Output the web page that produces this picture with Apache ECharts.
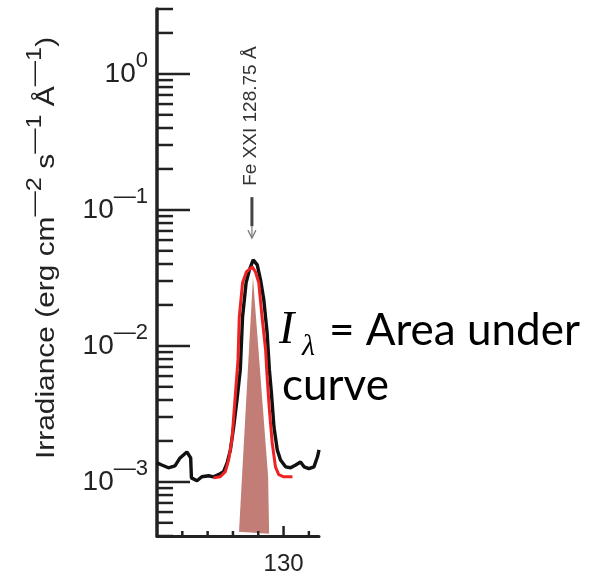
<!DOCTYPE html>
<html><head><meta charset="utf-8">
<script src="https://cdn.jsdelivr.net/npm/echarts@6/dist/echarts.min.js"></script>
<style>html,body{margin:0;padding:0;background:#fff}#c{width:595px;height:577px}</style>
</head><body><div id="c"></div>
<script>
// ---- data (wavelength in Å, irradiance in erg cm^-2 s^-1 Å^-1) ----
const blackX = [125.00,125.19,125.45,125.71,125.91,126.18,126.33,126.36,126.58,126.77,127.04,127.23,127.43,127.63,127.77,127.90,128.03,128.16,128.29,128.38,128.52,128.65,128.80,128.96,129.09,129.22,129.35,129.44,129.52,129.62,129.75,129.88,130.08,130.28,130.48,130.67,130.81,131.00,131.20,131.34,131.40];
const blackY = [1.38e-3,1.33e-3,1.27e-3,1.31e-3,1.50e-3,1.66e-3,1.50e-3,1.07e-3,1.02e-3,1.09e-3,1.11e-3,1.09e-3,1.13e-3,1.19e-3,1.38e-3,1.72e-3,2.54e-3,4.01e-3,6.66e-3,1.63e-2,2.91e-2,3.62e-2,4.29e-2,3.94e-2,3.06e-2,2.18e-2,1.25e-2,6.66e-3,4.51e-3,2.54e-3,1.72e-3,1.45e-3,1.29e-3,1.27e-3,1.33e-3,1.40e-3,1.29e-3,1.25e-3,1.29e-3,1.53e-3,1.72e-3];
const redX = [127.23,127.50,127.70,127.83,127.96,128.10,128.20,128.25,128.38,128.53,128.76,128.89,129.02,129.15,129.29,129.35,129.44,129.55,129.68,129.81,130.01,130.35];
const redY = [1.07e-3,1.09e-3,1.19e-3,1.45e-3,2.04e-3,4.51e-3,7.89e-3,1.63e-2,2.91e-2,3.50e-2,3.81e-2,3.50e-2,2.91e-2,1.63e-2,9.35e-3,5.92e-3,3.38e-3,1.94e-3,1.29e-3,1.13e-3,1.09e-3,1.09e-3];
const areaX = [128.79,129.39,129.43,128.24];
const areaY = [3.2e-2,1.09e-3,4.15e-4,4.29e-4];
const xTickLabels = [130];
const xMajorTicks = [130];
const xMinorTicks = [126,127,128,129,131];
const yMajorTicks = [1e-3,1e-2,1e-1,1];
const yExponents = [-3,-2,-1,0];
const yMinorTicks = [4e-4,5e-4,6e-4,7e-4,8e-4,9e-4,2e-3,3e-3,4e-3,5e-3,6e-3,7e-3,8e-3,9e-3,2e-2,3e-2,4e-2,5e-2,6e-2,7e-2,8e-2,9e-2,0.2,0.3,0.4,0.5,0.6,0.7,0.8,0.9,2,3];
const lineLabel = 'Fe XXI 128.75 Å';
const lineWavelength = 128.75;
const arrowTipY = 0.062;
const X_MIN = 125, X_MAX = 131.4, Y_MIN = 4e-4, Y_MAX = 3;

const AX = '#222';
const chart = echarts.init(document.getElementById('c'), null, {renderer:'canvas'});

function pairs(xs, ys){ return xs.map((x,i)=>[x, ys[i]]); }

const option = {
  backgroundColor: '#fff',
  animation: false,
  grid: {left:157, right:276, top:9, bottom:41, containLabel:false},
  xAxis: {
    type:'value', min:X_MIN, max:X_MAX, interval:5,
    axisLine:{show:true, onZero:false, lineStyle:{color:AX, width:3}},
    axisTick:{show:false}, minorTick:{show:false}, splitLine:{show:false},
    axisLabel:{formatter: v => xTickLabels.includes(v) ? String(v) : '', fontSize:24, color:'#222', fontFamily:'Liberation Sans', margin:16, showMinLabel:true, showMaxLabel:true}
  },
  yAxis: {
    type:'log', logBase:10, min:Y_MIN, max:Y_MAX,
    axisLine:{show:true, onZero:false, lineStyle:{color:AX, width:3.5}},
    axisTick:{show:false}, axisLabel:{show:false}, splitLine:{show:false}, minorTick:{show:false}
  },
  graphic: [
    {type:'text', x:47, y:248, rotation:Math.PI/2, scaleX:1.15,
     style:{text:'{m|Irradiance (erg cm}{s|—2}{m| s}{s|—1}{m| Å}{s|—1}{m|)}', align:'center', verticalAlign:'middle', fill:'#222',
       rich:{m:{fontSize:26, fontFamily:'Liberation Sans', lineHeight:32, fill:'#222'},
             s:{fontSize:22, fontFamily:'Liberation Sans', height:8, lineHeight:8, verticalAlign:'top', fill:'#222'}}}},
    {type:'text', x:279, y:331, style:{text:'I', font:'italic 46px "Liberation Serif"', fill:'#000', align:'left', verticalAlign:'middle'}},
    {type:'text', x:302, y:347, style:{text:'λ', font:'italic 30px "Liberation Serif"', fill:'#000', align:'left', verticalAlign:'middle'}},
    {type:'text', x:329, y:331, style:{text:'= Area under', font:'44px Lato', fill:'#000', align:'left', verticalAlign:'middle'}},
    {type:'text', x:282, y:386, style:{text:'curve', font:'44px Lato', fill:'#000', align:'left', verticalAlign:'middle'}}
  ],
  series: [
    {type:'custom', name:'area', coordinateSystem:'cartesian2d', clip:false, silent:true, z:2,
     data: pairs(areaX, areaY),
     renderItem:(params, api) => {
       if (params.dataIndex !== 0) return null;
       const pts = areaX.map((x,i)=>api.coord([x, areaY[i]]));
       return {type:'polygon', shape:{points:pts}, style:{fill:'#c17d76'}};
     }},
    {type:'line', name:'observed', data: pairs(blackX, blackY), showSymbol:false, symbol:'none', z:3,
     lineStyle:{color:'#111', width:3.4}},
    {type:'line', name:'fit', data: pairs(redX, redY), showSymbol:false, symbol:'none', z:4,
     lineStyle:{color:'#ee2222', width:3}},
    {type:'custom', name:'yticks', coordinateSystem:'cartesian2d', clip:false, silent:true, z:5,
     data: yMajorTicks.map(v=>[X_MIN, v, 33]).concat(yMinorTicks.map(v=>[X_MIN, v, 16])),
     renderItem:(params, api) => {
       const p = api.coord([api.value(0), api.value(1)]);
       const len = api.value(2);
       return {type:'line', shape:{x1:p[0], y1:p[1], x2:p[0]+len, y2:p[1]}, style:{stroke:AX, lineWidth:2.5}};
     }},
    {type:'custom', name:'xticks', coordinateSystem:'cartesian2d', clip:false, silent:true, z:5,
     data: xMajorTicks.map(v=>[v, Y_MIN, 10]).concat(xMinorTicks.map(v=>[v, Y_MIN, 5])),
     renderItem:(params, api) => {
       const p = api.coord([api.value(0), api.value(1)]);
       const len = api.value(2);
       return {type:'line', shape:{x1:p[0], y1:p[1], x2:p[0], y2:p[1]-len}, style:{stroke:AX, lineWidth:2.5}};
     }},
    {type:'custom', name:'ylabels', coordinateSystem:'cartesian2d', clip:false, silent:true, z:5,
     data: yMajorTicks.map((v,i)=>[X_MIN, v, yExponents[i]]),
     renderItem:(params, api) => {
       const p = api.coord([api.value(0), api.value(1)]);
       const e = api.value(2);
       const sup = e < 0 ? '—' + (-e) : String(e);
       return {type:'text', x:p[0]-9, y:p[1], style:{
         text:'{b|10}{s|' + sup + '}', align:'right', verticalAlign:'middle', fill:'#222',
         rich:{b:{fontSize:28, fontFamily:'Liberation Sans', lineHeight:34, fill:'#222'},
               s:{fontSize:22, fontFamily:'Liberation Sans', height:9, lineHeight:9, verticalAlign:'top', fill:'#222'}}}};
     }},
    {type:'custom', name:'lineid', coordinateSystem:'cartesian2d', clip:false, silent:true, z:5,
     data: [[lineWavelength, arrowTipY]],
     renderItem:(params, api) => {
       const p = api.coord([api.value(0), api.value(1)]);
       const x = p[0], y = p[1];
       return {type:'group', children:[
         {type:'line', shape:{x1:x, y1:y-41, x2:x, y2:y-12}, style:{stroke:'#444', lineWidth:3}},
         {type:'line', shape:{x1:x, y1:y-12, x2:x, y2:y}, style:{stroke:'#777', lineWidth:1.2}},
         {type:'polyline', shape:{points:[[x-4,y-8],[x,y],[x+4,y-8]]}, style:{stroke:'#777', lineWidth:1.2, fill:null}},
         {type:'text', x:x-1, y:y-122, rotation:Math.PI/2, style:{text:lineLabel, font:'19px "Liberation Sans"', fill:'#333', align:'center', verticalAlign:'middle'}}
       ]};
     }}
  ]
};
chart.setOption(option);
</script>
</body></html>
